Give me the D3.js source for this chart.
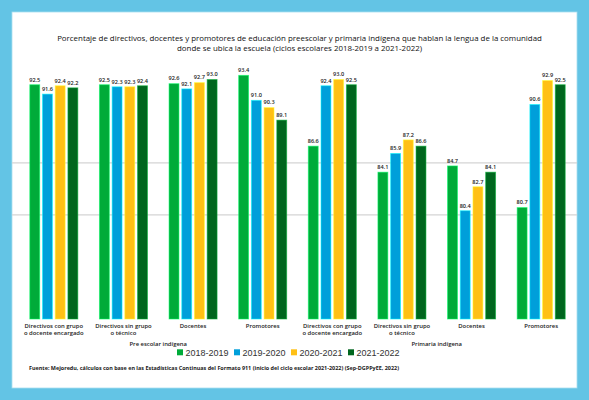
<!DOCTYPE html>
<html>
<head>
<meta charset="utf-8">
<script src="https://cdn.jsdelivr.net/npm/d3@7"></script>
<style>
  html, body { margin: 0; padding: 0; background: #63c4e5; }
  svg { display: block; font-family: "Open Sans", sans-serif; }
</style>
</head>
<body>
<figure id="chart" style="margin:0"></figure>
<script>
// chart data
const categories = [
  ["Directivos con grupo", "o docente encargado"],
  ["Directivos sin grupo", "o técnico"],
  ["Docentes"],
  ["Promotores"],
  ["Directivos con grupo", "o docente encargado"],
  ["Directivos sin grupo", "o técnico"],
  ["Docentes"],
  ["Promotores"]
];
const levels = ["Pre escolar indígena", "Primaria indígena"];
const seriesNames = ["2018-2019", "2019-2020", "2020-2021", "2021-2022"];
const values2018 = [92.5, 92.5, 92.6, 93.4, 86.6, 84.1, 84.7, 80.7];
const values2019 = [91.6, 92.3, 92.1, 91.0, 92.4, 85.9, 80.4, 90.6];
const values2020 = [92.4, 92.3, 92.7, 90.3, 93.0, 87.2, 82.7, 92.9];
const values2021 = [92.2, 92.4, 93.0, 89.1, 92.5, 86.6, 84.1, 92.5];
const gridValues = [80, 85];

const title = [
  "Porcentaje de directivos, docentes y promotores de educación preescolar y primaria indígena que hablan la lengua de la comunidad",
  "donde se ubica la escuela (ciclos escolares 2018-2019 a 2021-2022)"
];
const source = "Fuente: Mejoredu, cálculos con base en las Estadísticas Continuas del Formato 911 (inicio del ciclo escolar 2021-2022) (Sep-DGPPyEE, 2022)";

const width = 589;
const height = 400;
const colors = ["#00ab39", "#009fda", "#ffc015", "#00661e"];

const allSeries = [values2018, values2019, values2020, values2021];
const rows = categories.map((c, i) => ({
  idx: i,
  values: allSeries.map((s, k) => ({ key: seriesNames[k], value: s[i], color: colors[k] }))
}));

const svg = d3.select("figure#chart")
  .append("svg")
  .attr("width", width)
  .attr("height", height);

// frame
svg.append("rect")
  .attr("width", width).attr("height", height)
  .attr("fill", "#63c4e5");
svg.append("rect")
  .attr("x", 12).attr("y", 12)
  .attr("width", 565).attr("height", 376)
  .attr("fill", "#ffffff")
  .attr("stroke", "#a9def0")
  .attr("stroke-width", 0.8);

// title
svg.append("g")
  .selectAll("text")
  .data(title)
  .join("text")
  .attr("x", 299.5)
  .attr("y", (d, i) => 41 + i * 10)
  .attr("text-anchor", "middle")
  .attr("font-size", 7.9)
  .attr("fill", "#111111")
  .text(d => d);

// scales
const x0 = d3.scaleBand()
  .domain(d3.range(categories.length))
  .range([19, 576])
  .paddingInner(0.31)
  .paddingOuter(0.155);

const x1 = d3.scaleBand()
  .domain(seriesNames)
  .range([0, x0.bandwidth()])
  .paddingInner(0.22);

const y = d3.scaleLinear()
  .domain([70, 95])
  .range([319, 58.7]);

// grid lines
svg.append("g")
  .selectAll("line")
  .data(gridValues)
  .join("line")
  .attr("x1", 12)
  .attr("x2", 577)
  .attr("y1", d => y(d))
  .attr("y2", d => y(d))
  .attr("stroke", "#d4d4d4")
  .attr("stroke-width", 1.3);

// bars
const groups = svg.append("g")
  .selectAll("g")
  .data(rows)
  .join("g")
  .attr("transform", d => `translate(${x0(d.idx)},0)`);

groups.selectAll("rect")
  .data(d => d.values)
  .join("rect")
  .attr("x", d => x1(d.key))
  .attr("y", d => y(d.value))
  .attr("width", x1.bandwidth())
  .attr("height", d => y(70) - y(d.value))
  .attr("fill", d => d.color)
  .attr("stroke", d => d3.color(d.color).brighter(1.6))
  .attr("stroke-opacity", 0.6)
  .attr("stroke-width", 0.9);

groups.selectAll("text")
  .data(d => d.values)
  .join("text")
  .attr("x", d => x1(d.key) + x1.bandwidth() / 2)
  .attr("y", d => y(d.value) - 3.2)
  .attr("text-anchor", "middle")
  .attr("font-size", 5.6)
  .attr("font-weight", 600)
  .attr("fill", "#1a1a1a")
  .text(d => d3.format(".1f")(d.value));

// category labels
const catLabels = svg.append("g")
  .selectAll("text")
  .data(categories)
  .join("text")
  .attr("x", (d, i) => x0(i) + x0.bandwidth() / 2)
  .attr("y", 327.8)
  .attr("text-anchor", "middle")
  .attr("font-size", 5.9)
  .attr("font-weight", 600)
  .attr("fill", "#1a1a1a");

catLabels.selectAll("tspan")
  .data(d => d)
  .join("tspan")
  .attr("x", function () { return d3.select(this.parentNode).attr("x"); })
  .attr("dy", (d, i) => i === 0 ? 0 : 7.6)
  .text(d => d);

// level labels
svg.append("g")
  .selectAll("text")
  .data(levels)
  .join("text")
  .attr("x", (d, i) => (x0(i * 4) + x0(i * 4 + 3) + x0.bandwidth()) / 2)
  .attr("y", 346.3)
  .attr("text-anchor", "middle")
  .attr("font-size", 5.9)
  .attr("font-weight", 600)
  .attr("fill", "#1a1a1a")
  .text(d => d);

// legend
const legend = svg.append("g")
  .selectAll("g")
  .data(seriesNames)
  .join("g")
  .attr("transform", (d, i) => `translate(${177 + i * 57},352.3)`);

legend.append("rect")
  .attr("x", 0)
  .attr("y", -3)
  .attr("width", 6)
  .attr("height", 6)
  .attr("fill", (d, i) => colors[i]);

legend.append("text")
  .attr("x", 8.5)
  .attr("y", 3.3)
  .attr("font-family", "Liberation Sans, Arial, sans-serif")
  .attr("font-size", 9)
  .attr("fill", "#333333")
  .text(d => d);

// source
svg.append("text")
  .attr("x", 29)
  .attr("y", 369.8)
  .attr("font-size", 5.6)
  .attr("font-weight", 700)
  .attr("fill", "#1a1a1a")
  .attr("textLength", 370)
  .attr("lengthAdjust", "spacingAndGlyphs")
  .text(source);
</script>
</body>
</html>
